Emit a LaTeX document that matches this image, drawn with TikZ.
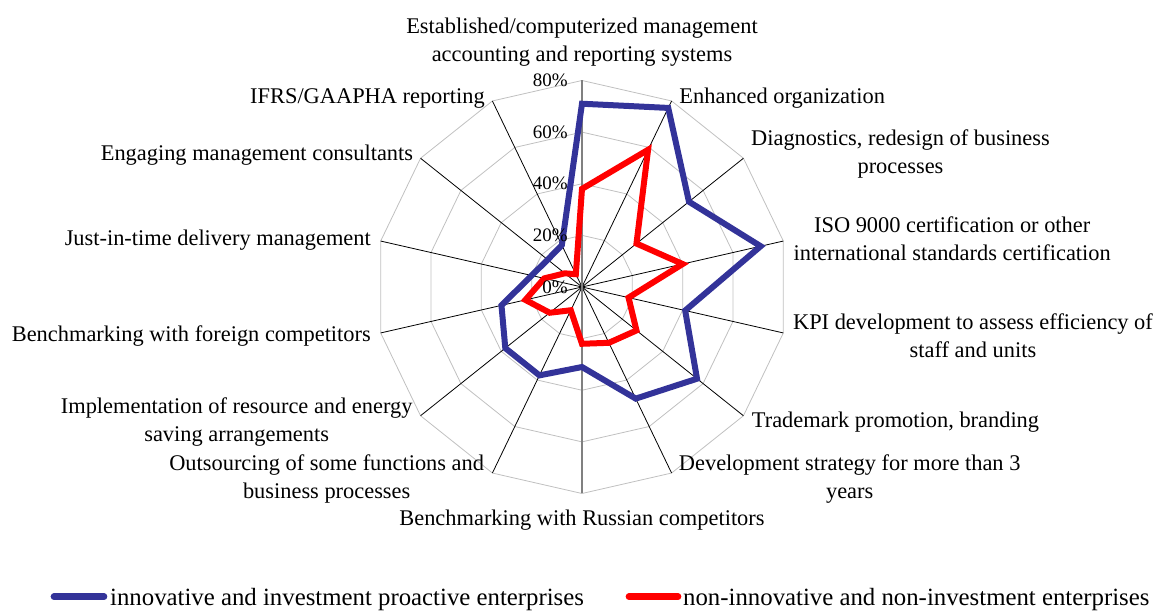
\documentclass[tikz,border=0pt]{standalone}
\usepackage{fontspec}
\setmainfont{Liberation Serif}
\definecolor{innovblue}{RGB}{51,51,153}
\definecolor{gridgray}{RGB}{192,192,192}
\tikzset{
	catlabel/.style={black, inner sep=0pt, align=center, font=\fontsize{22.4}{28.3}\selectfont},
	pctlabel/.style={black, inner sep=0pt, anchor=east, font=\fontsize{19}{22}\selectfont},
	leglabel/.style={black, inner sep=0pt, anchor=base west, font=\fontsize{24.8}{28}\selectfont},
	ring/.style={draw=gridgray, line width=0.8pt},
	spoke/.style={draw=black, line width=0.8pt},
	valueaxis/.style={draw=gray, line width=1.3pt},
	seriesA/.style={draw=innovblue, line width=6pt, line join=miter, miter limit=3},
	seriesB/.style={draw=red, line width=6pt, line join=miter, miter limit=3},
}
\begin{document}
\begin{tikzpicture}[x=1pt, y=1pt]
	\useasboundingbox (-582.00,-325.00) rectangle (578.00,287.00);
	\foreach \r in {51.63,103.25,154.88,206.50}
		\draw[ring] (90:\r) \foreach \i in {1,...,13} { -- (90-\i*360/14:\r) } -- cycle;
	\foreach \i in {1,...,6,8,9,...,13}
		\draw[spoke] (0,0) -- (90-\i*360/14:206.50);
	\draw[valueaxis] (0.00,-206.50) -- (0.00,206.50);
	\draw[seriesA] (90:183.27) \foreach \i/\v in {1/198.76,2/136.81,3/183.27,4/105.83,5/147.13,6/123.90,7/80.02,8/98.09,9/98.09,10/82.60,11/51.63,12/43.88,13/46.46} { -- (90-\i*360/14:\v) } -- cycle;
	\draw[seriesB] (90:98.09) \foreach \i/\v in {1/152.29,2/69.69,3/103.25,4/47.75,5/69.69,6/61.95,7/56.79,8/25.81,9/41.30,10/58.08,11/38.72,12/21.94,13/14.20} { -- (90-\i*360/14:\v) } -- cycle;
	\node[pctlabel] (p0) at (-14.00,0.00) {0\%};
	\node[pctlabel] (p20) at (-14.00,51.63) {20\%};
	\node[pctlabel] (p40) at (-14.00,103.25) {40\%};
	\node[pctlabel] (p60) at (-14.00,154.88) {60\%};
	\node[pctlabel] (p80) at (-14.00,206.50) {80\%};
	\node[catlabel] (lab0) at (0.00,244.80) {Established/computerized management\\accounting and reporting systems};
	\node[catlabel, anchor=west] (lab1) at (97.30,188.70) {Enhanced organization};
	\node[catlabel] (lab2) at (318.50,133.00) {Diagnostics, redesign of business\\processes};
	\node[catlabel] (lab3) at (370.20,48.00) {ISO 9000 certification or other\\international standards certification};
	\node[catlabel] (lab4) at (391.00,-49.00) {KPI development to assess efficiency of\\staff and units};
	\node[catlabel, anchor=west] (lab5) at (169.70,-134.70) {Trademark promotion, branding};
	\node[catlabel] (lab6) at (267.70,-192.00) {Development strategy for more than 3\\years};
	\node[catlabel] (lab7) at (0.00,-233.00) {Benchmarking with Russian competitors};
	\node[catlabel] (lab8) at (-255.30,-192.00) {Outsourcing of some functions and\\business processes};
	\node[catlabel] (lab9) at (-345.30,-135.30) {Implementation of resource and energy\\saving arrangements};
	\node[catlabel, anchor=east] (lab10) at (-211.00,-48.70) {Benchmarking with foreign competitors};
	\node[catlabel, anchor=east] (lab11) at (-211.00,47.00) {Just-in-time delivery management};
	\node[catlabel, anchor=east] (lab12) at (-168.70,132.00) {Engaging management consultants};
	\node[catlabel, anchor=east] (lab13) at (-97.00,188.70) {IFRS/GAAPHA reporting};
	\draw[draw=innovblue, line width=6.7pt, line cap=round] (-528.00,-309.70) -- (-478.00,-309.70);
	\node[leglabel] (legA) at (-472.00,-318.50) {innovative and investment proactive enterprises};
	\draw[draw=red, line width=6.7pt, line cap=round] (47.00,-309.70) -- (96.00,-309.70);
	\node[leglabel] (legB) at (101.00,-318.50) {non-innovative and non-investment enterprises};
\end{tikzpicture}
\end{document}
